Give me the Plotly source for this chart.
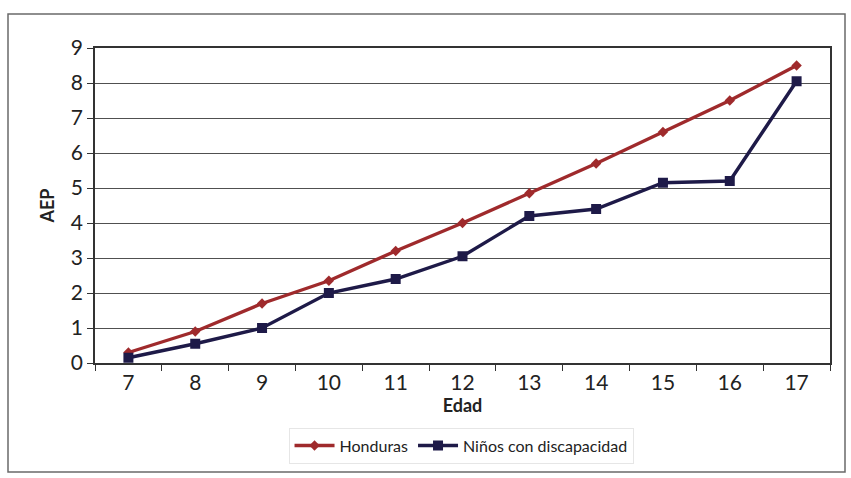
import plotly.graph_objects as go

# Age groups (x axis) and AEP values for each series
edades = ["7", "8", "9", "10", "11", "12", "13", "14", "15", "16", "17"]
honduras = [0.3, 0.9, 1.7, 2.35, 3.2, 4.0, 4.85, 5.7, 6.6, 7.5, 8.5]
ninos_discapacidad = [0.15, 0.55, 1.0, 2.0, 2.4, 3.05, 4.2, 4.4, 5.15, 5.2, 8.05]

ROJO = "#9f2a2c"
AZUL = "#1e1a48"
FONT = "Lato"

W, H = 851, 478
L, R, T, B = 95, 21, 48, 115
pw, ph = W - L - R, H - T - B


def px_to_paper(x, y):
    return (x - L) / pw, (H - B - y) / ph


fig = go.Figure()
fig.add_trace(go.Scatter(
    x=edades, y=honduras, name="Honduras", mode="lines+markers",
    line=dict(color=ROJO, width=3.4),
    marker=dict(symbol="diamond", size=8, color=ROJO),
))
fig.add_trace(go.Scatter(
    x=edades, y=ninos_discapacidad, name="Niños con discapacidad",
    mode="lines+markers",
    line=dict(color=AZUL, width=3.4),
    marker=dict(symbol="square", size=10, color=AZUL),
))

# outer frame around the whole chart
x0, y0 = px_to_paper(8, 472)
x1, y1 = px_to_paper(845, 14)
fig.add_shape(type="rect", xref="paper", yref="paper",
              x0=x0, y0=y0, x1=x1, y1=y1,
              line=dict(color="#6a6a6a", width=1.5), layer="below")

fig.update_layout(
    width=W, height=H,
    margin=dict(l=L, r=R, t=T, b=B),
    paper_bgcolor="white", plot_bgcolor="white",
    font=dict(family=FONT, color="#222222"),
    showlegend=True,
    legend=dict(
        orientation="h", x=0.498, xanchor="center", y=-0.205, yanchor="top",
        font=dict(size=16, family=FONT, color="#222222"),
        bgcolor="white", bordercolor="#e6e6e6", borderwidth=1,
        itemwidth=40, tracegroupgap=0,
    ),
    xaxis=dict(
        type="category", range=[-0.5, 10.5],
        tickson="boundaries", ticks="outside", ticklen=6,
        tickcolor="#333333", tickwidth=1.2,
        showline=True, linecolor="#333333", linewidth=1.5, mirror=True,
        showgrid=False,
        tickfont=dict(size=21, family=FONT, color="#222222"),
        title=dict(text="<b>Edad</b>", font=dict(size=18, family=FONT, color="#222222"),
                   standoff=6),
    ),
    yaxis=dict(
        range=[0, 9], dtick=1, tick0=0,
        ticks="outside", ticklen=6, tickcolor="#333333", tickwidth=1.2,
        showline=True, linecolor="#333333", linewidth=1.5, mirror=True,
        showgrid=True, gridcolor="#505050", gridwidth=1.2,
        zeroline=False,
        tickfont=dict(size=21, family=FONT, color="#222222"),
        title=dict(text="<b>AEP</b>", font=dict(size=18, family=FONT, color="#222222"),
                   standoff=12),
    ),
)

fig.write_html("out.html")
